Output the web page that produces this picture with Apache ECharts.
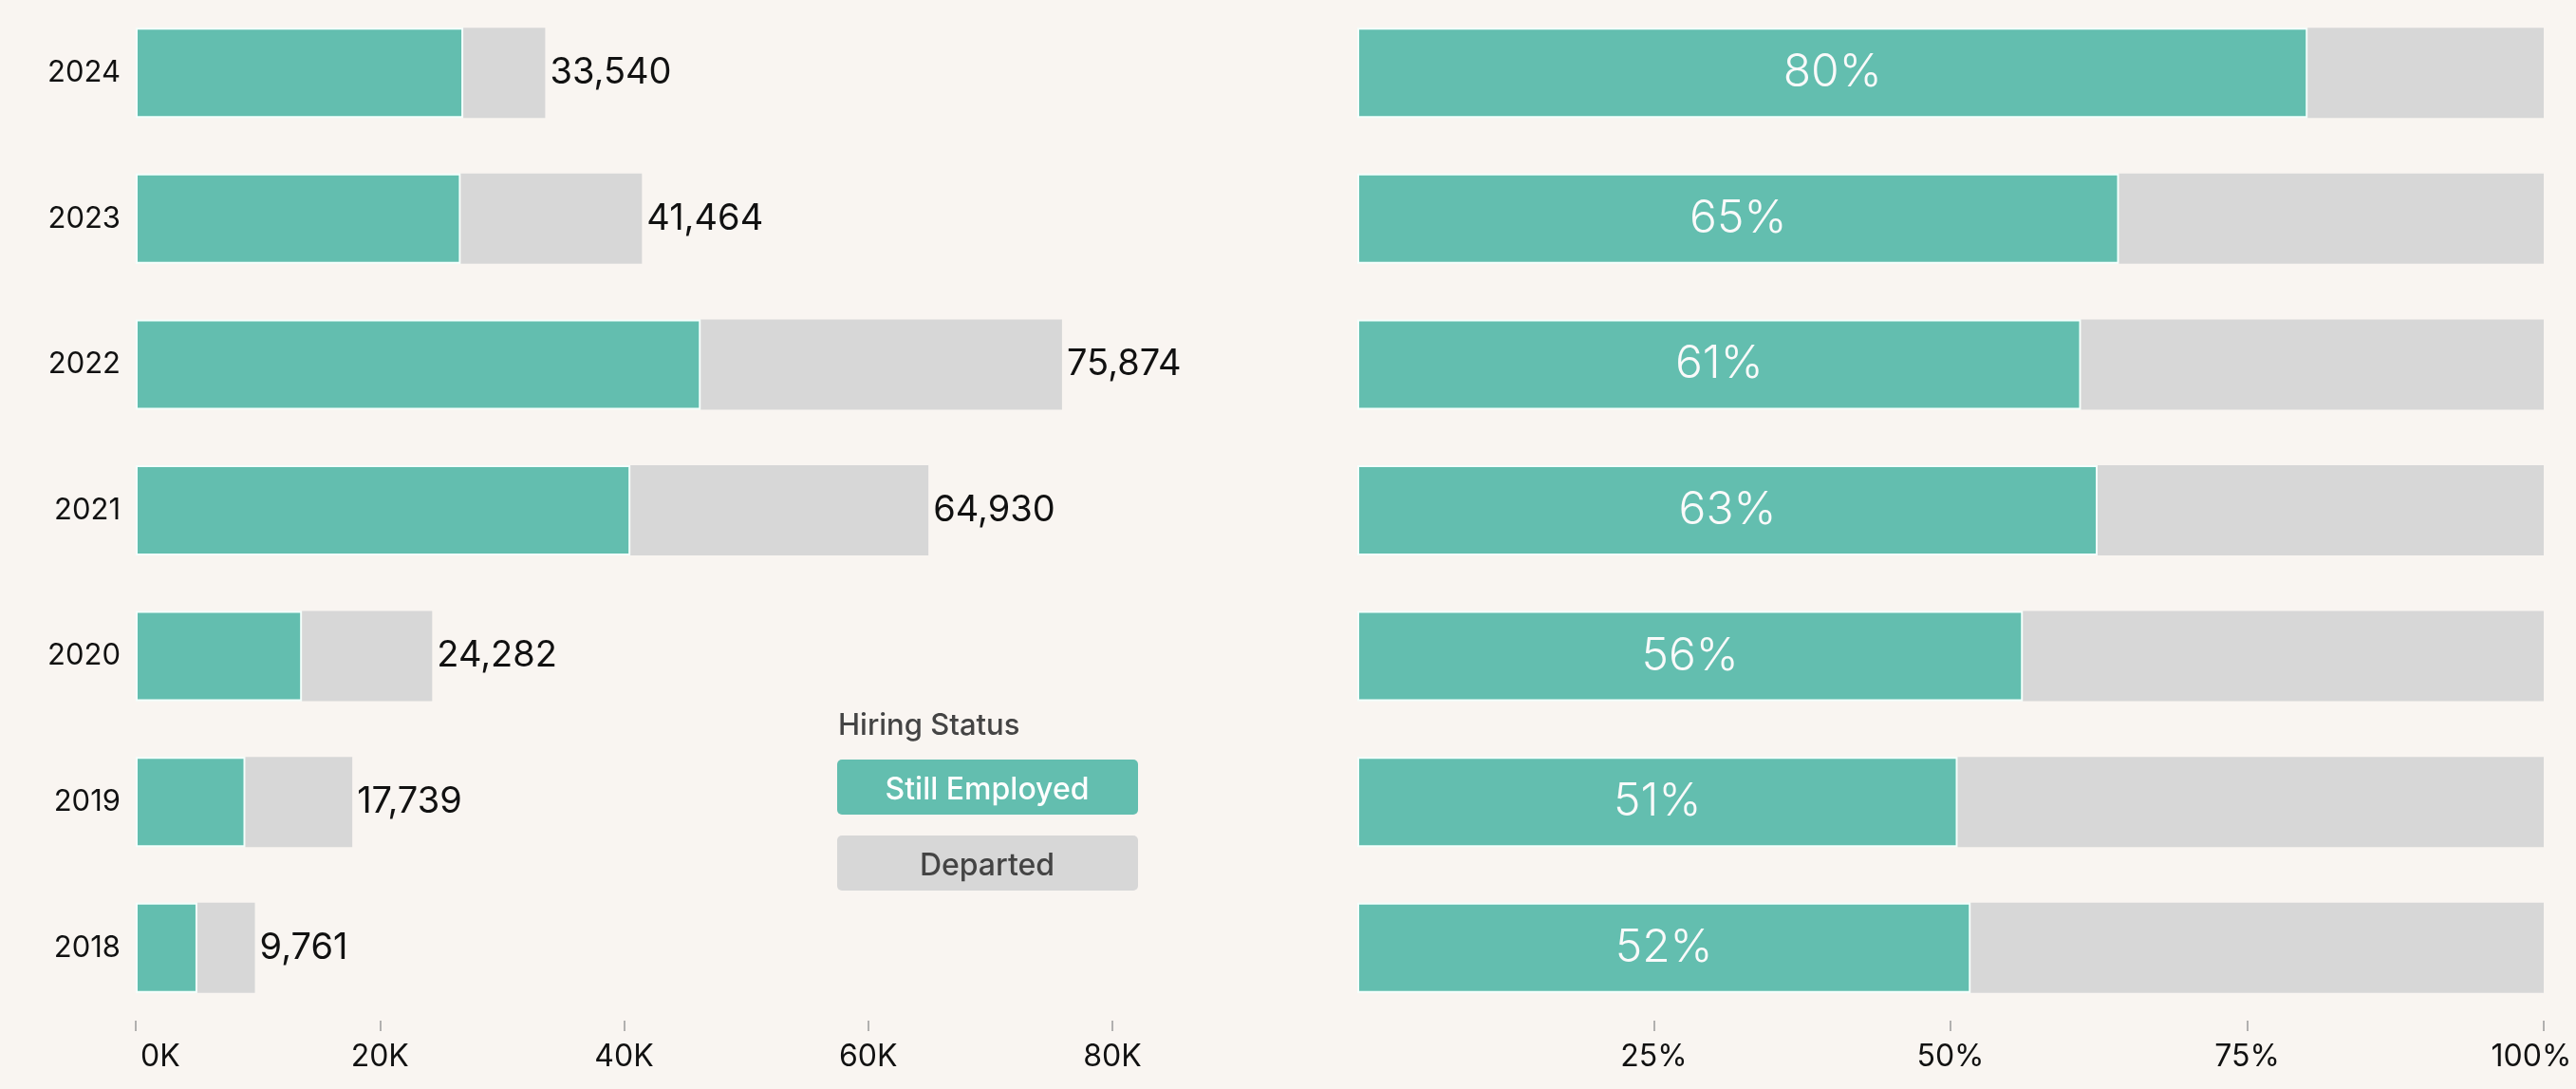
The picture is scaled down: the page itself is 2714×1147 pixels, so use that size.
<!DOCTYPE html>
<html>
<head>
<meta charset="utf-8">
<script src="https://cdn.jsdelivr.net/npm/echarts@6/dist/echarts.min.js"></script>
<style>
  html, body { margin: 0; padding: 0; background: #F9F5F1; }
  #chart { width: 2714px; height: 1147px; }
</style>
</head>
<body>
<div id="chart"></div>
<script>
// years, top to bottom
const years = ['2024', '2023', '2022', '2021', '2020', '2019', '2018'];
// headcount per hiring year
const stillEmployed = [26830, 26620, 46280, 40520, 13620, 8980, 5050];
const departed = [6710, 14844, 29594, 24410, 10662, 8759, 4711];
const totals = [33540, 41464, 75874, 64930, 24282, 17739, 9761];
// share still employed (%)
const pctEmployed = [80.1, 64.2, 61.0, 62.4, 56.1, 50.6, 51.7];
const pctDeparted = [19.9, 35.8, 39.0, 37.6, 43.9, 49.4, 48.3];
const pctLabels = ['80%', '65%', '61%', '63%', '56%', '51%', '52%'];
// axis ticks
const countTicks = [0, 20000, 40000, 60000, 80000];
const pctTicks = [25, 50, 75, 100];

const TEAL = '#63BEAF';
const GREY = '#D7D7D7';
const FONT = 'Inter, "Noto Sans", sans-serif';

const chart = echarts.init(document.getElementById('chart'));

chart.setOption({
    backgroundColor: '#F9F5F1',
    animation: false,
    grid: [
        { left: 143, right: 1542, top: 0, height: 1075 },
        { left: 1430, right: 34, top: 0, height: 1075 }
    ],
    xAxis: [{
        gridIndex: 0,
        type: 'value',
        min: countTicks[0],
        max: countTicks[countTicks.length - 1],
        interval: 20000,
        splitLine: { show: false },
        axisLine: { show: false },
        axisTick: { show: true, length: 11, lineStyle: { color: '#999', width: 1.5 } },
        axisLabel: {
            margin: 22,
            fontFamily: FONT,
            fontSize: 32,
            color: '#111',
            alignMinLabel: 'left',
            formatter: v => v === 0 ? '{first|0K}' : (v / 1000) + 'K',
            rich: { first: { fontFamily: FONT, fontSize: 32, color: '#111', padding: [0, 0, 0, 5] } }
        }
    }, {
        gridIndex: 1,
        type: 'value',
        min: 0,
        max: 100,
        interval: 25,
        splitLine: { show: false },
        axisLine: { show: false },
        axisTick: { show: true, length: 11, customValues: pctTicks, lineStyle: { color: '#999', width: 1.5 } },
        axisLabel: {
            margin: 22,
            fontFamily: FONT,
            fontSize: 32,
            color: '#111',
            customValues: pctTicks,
            formatter: v => v === 100 ? '{last|100%}' : v + '%',
            rich: { last: { fontFamily: FONT, fontSize: 32, color: '#111', padding: [0, 26, 0, 0] } }
        }
    }],
    yAxis: [{
        gridIndex: 0,
        type: 'category',
        inverse: true,
        data: years,
        axisLine: { show: false },
        axisTick: { show: false },
        axisLabel: { margin: 16, fontFamily: FONT, fontSize: 31, color: '#111' }
    }, {
        gridIndex: 1,
        type: 'category',
        inverse: true,
        data: years,
        axisLine: { show: false },
        axisTick: { show: false },
        axisLabel: { show: false }
    }],
    // legend drawn as two rounded swatches with the label inside
    graphic: [
        {
            type: 'text', x: 883, y: 765,
            style: { text: 'Hiring Status', fontFamily: FONT, fontSize: 31, fontWeight: 500, fill: '#444', verticalAlign: 'middle' }
        },
        {
            type: 'rect', x: 882, y: 800,
            shape: { width: 317, height: 58, r: 5 },
            style: { fill: TEAL }
        },
        {
            type: 'text', x: 1040, y: 832,
            style: { text: 'Still Employed', fontFamily: FONT, fontSize: 32, fontWeight: 500, fill: '#fff', align: 'center', verticalAlign: 'middle' }
        },
        {
            type: 'rect', x: 882, y: 880,
            shape: { width: 317, height: 58, r: 5 },
            style: { fill: GREY }
        },
        {
            type: 'text', x: 1040, y: 912,
            style: { text: 'Departed', fontFamily: FONT, fontSize: 32, fontWeight: 500, fill: '#444', align: 'center', verticalAlign: 'middle' }
        }
    ],
    series: [{
        name: 'Still Employed',
        type: 'bar',
        xAxisIndex: 0, yAxisIndex: 0,
        stack: 'count',
        barWidth: 95,
        data: stillEmployed,
        itemStyle: { color: TEAL, borderColor: '#f4fffc', borderWidth: 2 }
    }, {
        name: 'Departed',
        type: 'bar',
        xAxisIndex: 0, yAxisIndex: 0,
        stack: 'count',
        barWidth: 95,
        data: departed,
        itemStyle: { color: GREY },
        label: {
            show: true,
            position: 'right',
            distance: 5,
            fontFamily: FONT,
            fontSize: 38,
            color: '#111',
            formatter: p => totals[p.dataIndex].toLocaleString('en-US')
        }
    }, {
        name: 'Still Employed',
        type: 'bar',
        xAxisIndex: 1, yAxisIndex: 1,
        stack: 'pct',
        barWidth: 95,
        data: pctEmployed,
        itemStyle: { color: TEAL, borderColor: '#f4fffc', borderWidth: 2 },
        label: {
            show: true,
            position: 'inside',
            fontFamily: FONT,
            fontWeight: 300,
            fontSize: 48,
            color: '#fafafa',
            formatter: p => pctLabels[p.dataIndex]
        }
    }, {
        name: 'Departed',
        type: 'bar',
        xAxisIndex: 1, yAxisIndex: 1,
        stack: 'pct',
        barWidth: 95,
        data: pctDeparted,
        itemStyle: { color: GREY }
    }]
});

window.addEventListener('resize', function() {
    chart.resize();
});
</script>
</body>
</html>
